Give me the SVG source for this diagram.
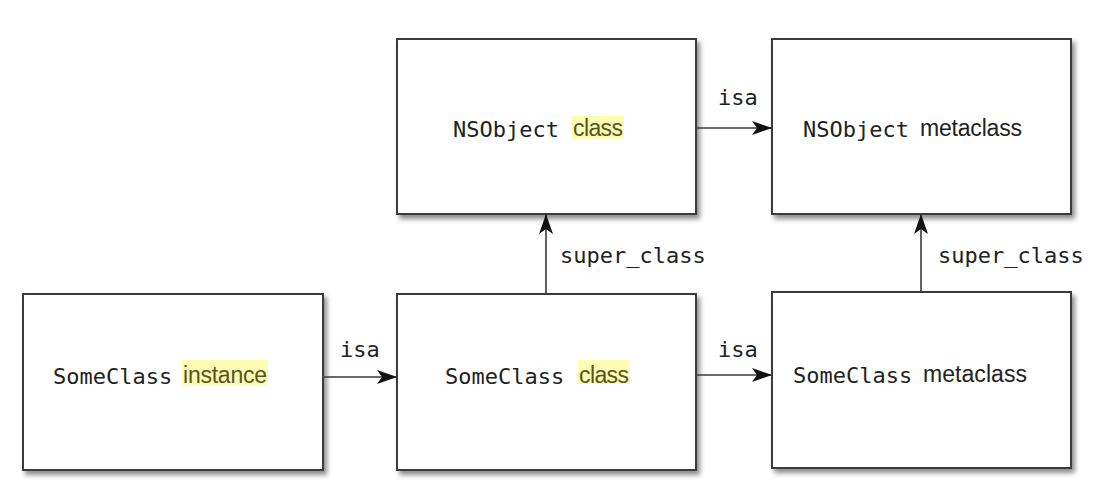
<svg xmlns="http://www.w3.org/2000/svg" width="1104" height="492" viewBox="0 0 1104 492">
<style>
.box{fill:#fff;stroke:#3a3a3a;stroke-width:2;filter:url(#sh)}
.mono{font-family:"DejaVu Sans Mono","Liberation Mono",monospace;font-size:22px;fill:#222}
.sans{font-family:"Liberation Sans","Noto Sans",sans-serif;font-size:23px;fill:#222}
.hlt{fill:#555522}
.hl{fill:#fcfcb4}
.conn{stroke:#3a3a3a;stroke-width:1.6;fill:none;marker-end:url(#ah)}
</style>
<defs>
<filter id="sh" x="-10%" y="-10%" width="125%" height="130%">
<feDropShadow dx="3" dy="4" stdDeviation="2.5" flood-color="#000" flood-opacity="0.45"/>
</filter>
<marker id="ah" viewBox="0 0 20 14" refX="19" refY="7" markerWidth="20" markerHeight="14" markerUnits="userSpaceOnUse" orient="auto">
<path d="M0,0 L20,7 L0,14 L5,7 Z" fill="#111"/>
</marker>
</defs>
<rect width="1104" height="492" fill="#fff"/>
<g id="nsobject-class">
<rect class="box" x="397" y="39" width="299" height="175"/>
<rect class="hl" x="572" y="116" width="52" height="23"/>
<text class="mono" x="453" y="137">NSObject</text>
<text class="sans hlt" x="573" y="136" textLength="50">class</text>
</g>
<g id="nsobject-metaclass">
<rect class="box" x="772" y="39" width="299" height="175"/>
<text class="mono" x="803" y="137">NSObject</text>
<text class="sans" x="920" y="136" textLength="102">metaclass</text>
</g>
<g id="someclass-instance">
<rect class="box" x="23" y="294" width="300" height="176"/>
<rect class="hl" x="182" y="360" width="86" height="25"/>
<text class="mono" x="53" y="384">SomeClass</text>
<text class="sans hlt" x="183" y="383" textLength="84">instance</text>
</g>
<g id="someclass-class">
<rect class="box" x="397" y="294" width="299" height="176"/>
<rect class="hl" x="578" y="360" width="52" height="24"/>
<text class="mono" x="445" y="384">SomeClass</text>
<text class="sans hlt" x="579" y="383" textLength="50">class</text>
</g>
<g id="someclass-metaclass">
<rect class="box" x="772" y="292" width="299" height="176"/>
<text class="mono" x="793" y="383">SomeClass</text>
<text class="sans" x="923" y="382" textLength="104">metaclass</text>
</g>
<g id="connectors">
<path class="conn" d="M696,128 H771"/>
<path class="conn" d="M323,377 H396"/>
<path class="conn" d="M696,375 H771"/>
<path class="conn" d="M546,294 V215"/>
<path class="conn" d="M921,292 V215"/>
<text class="mono" x="718" y="105">isa</text>
<text class="mono" x="340" y="357">isa</text>
<text class="mono" x="718" y="357">isa</text>
<text class="mono" x="560" y="263">super_class</text>
<text class="mono" x="938" y="263">super_class</text>
</g>
</svg>
